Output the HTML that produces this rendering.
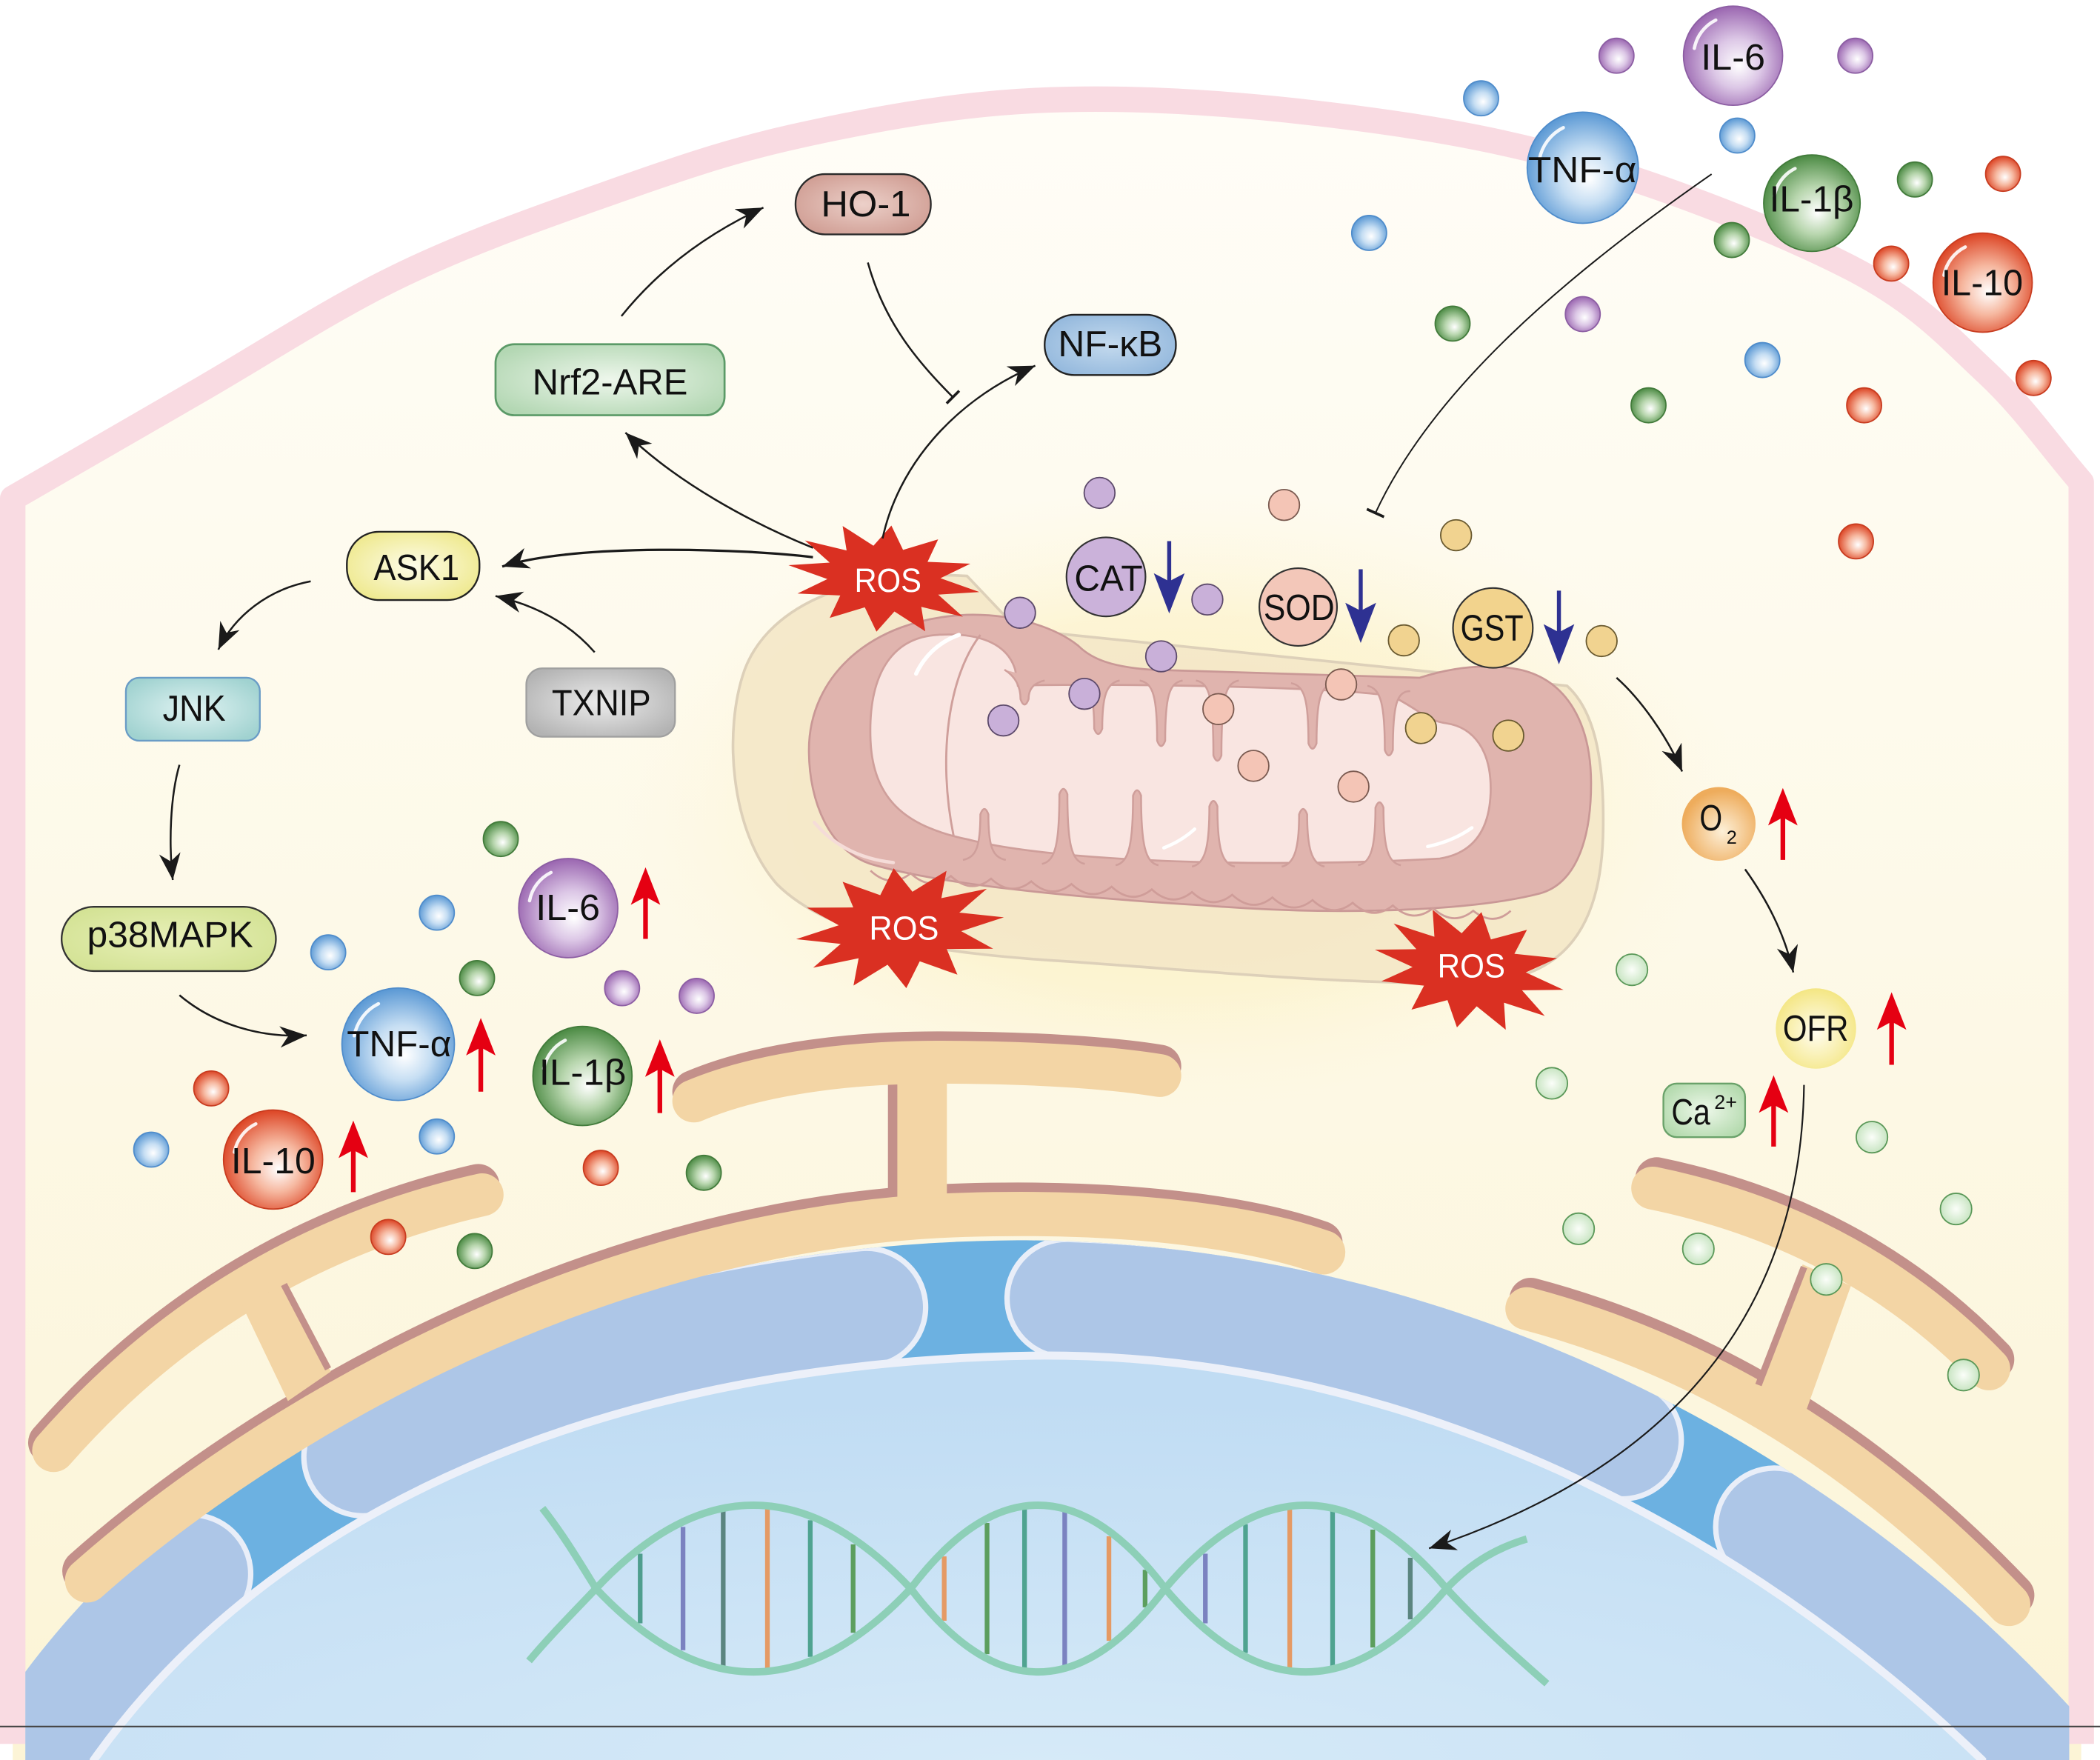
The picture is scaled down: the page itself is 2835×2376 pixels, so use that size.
<!DOCTYPE html>
<html><head><meta charset="utf-8"><style>
html,body{margin:0;padding:0;background:#fff;}
svg{display:block;}
text{font-family:"Liberation Sans",Arial,sans-serif;}
</style></head><body>
<svg xmlns="http://www.w3.org/2000/svg" width="2835" height="2376" viewBox="0 0 1568 1314" preserveAspectRatio="none">
<defs>
<linearGradient id="cellbg" x1="0" y1="0" x2="0" y2="1">
<stop offset="0" stop-color="#fffdf7"/><stop offset="0.5" stop-color="#fdf9e8"/><stop offset="1" stop-color="#fcf4d6"/>
</linearGradient>
<radialGradient id="glow" cx="0.5" cy="0.5" r="0.5">
<stop offset="0" stop-color="#fbeeb8" stop-opacity="0.9"/><stop offset="0.6" stop-color="#fcf1c4" stop-opacity="0.6"/><stop offset="1" stop-color="#fdf6dc" stop-opacity="0"/>
</radialGradient>
<radialGradient id="gPur" cx="0.52" cy="0.55" r="0.55" fx="0.56" fy="0.6"><stop offset="0" stop-color="#fff"/><stop offset="0.45" stop-color="#dcc7e6"/><stop offset="1" stop-color="#9a66b0"/></radialGradient>
<radialGradient id="gBlu" cx="0.52" cy="0.55" r="0.55" fx="0.56" fy="0.6"><stop offset="0" stop-color="#fff"/><stop offset="0.45" stop-color="#c6def3"/><stop offset="1" stop-color="#5a98d4"/></radialGradient>
<radialGradient id="gGrn" cx="0.52" cy="0.55" r="0.55" fx="0.56" fy="0.6"><stop offset="0" stop-color="#fff"/><stop offset="0.45" stop-color="#b8d6ae"/><stop offset="1" stop-color="#4b8a43"/></radialGradient>
<radialGradient id="gRed" cx="0.52" cy="0.55" r="0.55" fx="0.56" fy="0.6"><stop offset="0" stop-color="#fff"/><stop offset="0.45" stop-color="#f6b8a0"/><stop offset="1" stop-color="#dc4424"/></radialGradient>
<radialGradient id="gPale" cx="0.5" cy="0.5" r="0.5"><stop offset="0" stop-color="#fbfef9"/><stop offset="1" stop-color="#c9e5c3"/></radialGradient>
<radialGradient id="gO2" cx="0.55" cy="0.6" r="0.55"><stop offset="0" stop-color="#fdf0d8"/><stop offset="1" stop-color="#eeac5c"/></radialGradient>
<radialGradient id="gOFR" cx="0.5" cy="0.55" r="0.55"><stop offset="0" stop-color="#fffdf0"/><stop offset="1" stop-color="#f4e683"/></radialGradient>
<radialGradient id="bHO" cx="0.5" cy="0.5" r="0.6"><stop offset="0" stop-color="#ecd0c9"/><stop offset="1" stop-color="#cf9c92"/></radialGradient>
<radialGradient id="bNF" cx="0.5" cy="0.5" r="0.6"><stop offset="0" stop-color="#c4daee"/><stop offset="1" stop-color="#92b7dc"/></radialGradient>
<radialGradient id="bNrf" cx="0.5" cy="0.5" r="0.6"><stop offset="0" stop-color="#eef7ec"/><stop offset="1" stop-color="#b3d7b3"/></radialGradient>
<radialGradient id="bASK" cx="0.5" cy="0.5" r="0.6"><stop offset="0" stop-color="#fdfce8"/><stop offset="1" stop-color="#eee88a"/></radialGradient>
<radialGradient id="bTX" cx="0.5" cy="0.5" r="0.6"><stop offset="0" stop-color="#ececec"/><stop offset="1" stop-color="#b3b3b3"/></radialGradient>
<radialGradient id="bJNK" cx="0.5" cy="0.5" r="0.6"><stop offset="0" stop-color="#e0f3f2"/><stop offset="1" stop-color="#a0d2d0"/></radialGradient>
<radialGradient id="bP38" cx="0.5" cy="0.5" r="0.6"><stop offset="0" stop-color="#e8f0b8"/><stop offset="1" stop-color="#d3e294"/></radialGradient>
<radialGradient id="bCa" cx="0.5" cy="0.5" r="0.6"><stop offset="0" stop-color="#eef8ea"/><stop offset="1" stop-color="#b2d9ac"/></radialGradient>
<radialGradient id="nucG" cx="0.5" cy="1" r="0.9"><stop offset="0" stop-color="#d6eaf8"/><stop offset="1" stop-color="#c0dcf3"/></radialGradient>
<clipPath id="cellclip"><rect x="19" y="0" width="1526" height="1314"/></clipPath>
<clipPath id="domeclip"><path d="M 0,1275 C 150,1050 450,928 760,926 C 1080,926 1380,1080 1568,1300 L 1568,1314 L 0,1314 Z"/></clipPath>
<marker id="ah" markerUnits="userSpaceOnUse" markerWidth="22" markerHeight="18" refX="20" refY="8" orient="auto">
<path d="M0,0 L20,8 L0,16 L6,8 Z" fill="#1a1a1a"/>
</marker>
</defs>

<rect width="1568" height="1314" fill="#fff"/>

<!-- cell interior -->
<path d="M 9.5,1314 L 9.5,372 C 55.7,345.3 100.25,319.5 148,292 C 195.75,264.5 246.7,231 296,207 C 345.3,183 394.5,165.5 444,148 C 493.5,130.5 538,114.2 593,102 C 648,89.8 709.8,78 774,75 C 838.2,72 910.5,76.3 978,84 C 1045.5,91.7 1111.7,101.7 1179,121 C 1246.3,140.3 1331.3,173.8 1382,200 C 1432.7,226.2 1454.3,251.3 1483,278 C 1511.7,304.7 1530.3,332.7 1554,360 L 1554,1314 Z" fill="url(#cellbg)"/>
<!-- membrane band -->
<path d="M 9.5,1302 L 9.5,372 C 55.7,345.3 100.25,319.5 148,292 C 195.75,264.5 246.7,231 296,207 C 345.3,183 394.5,165.5 444,148 C 493.5,130.5 538,114.2 593,102 C 648,89.8 709.8,78 774,75 C 838.2,72 910.5,76.3 978,84 C 1045.5,91.7 1111.7,101.7 1179,121 C 1246.3,140.3 1331.3,173.8 1382,200 C 1432.7,226.2 1454.3,251.3 1483,278 C 1511.7,304.7 1530.3,332.7 1554,360 L 1554,1302" fill="none" stroke="#f9dbe2" stroke-width="19" stroke-linejoin="round"/>

<!-- mito glow -->
<ellipse cx="880" cy="600" rx="420" ry="235" fill="url(#glow)"/>

<!-- nucleus -->
<g clip-path="url(#cellclip)">
<path d="M 0,1275 C 150,1050 450,928 760,926 C 1080,926 1380,1080 1568,1300 L 1568,1314 L 0,1314 Z" fill="#6cb1e1"/>
<g clip-path="url(#domeclip)">
<path d="M 35,1295 C 175,1090 450,972 770,969 C 1065,969 1340,1110 1524,1307" fill="none" stroke="#e9eef8" stroke-width="92" stroke-linecap="round" stroke-dasharray="162 155 395 149 432 131 600"/>
<path d="M 35,1295 C 175,1090 450,972 770,969 C 1065,969 1340,1110 1524,1307" fill="none" stroke="#adc6e7" stroke-width="84" stroke-linecap="round" stroke-dasharray="162 155 395 149 432 131 600"/>
</g>
<path d="M 70,1320 L 70,1314 C 200,1130 450,1015 780,1012 C 1050,1012 1300,1140 1480,1314 L 1480,1320 Z" fill="url(#nucG)" stroke="#ecf0f9" stroke-width="6"/>
</g>

<!-- DNA -->
<g stroke-width="3.5" fill="none">
<line x1="478" y1="1160" x2="478" y2="1212" stroke="#4f9e8e"/>
<line x1="510" y1="1140" x2="510" y2="1232" stroke="#7b82c0"/>
<line x1="540" y1="1128" x2="540" y2="1244" stroke="#5b8580"/>
<line x1="573" y1="1126" x2="573" y2="1246" stroke="#e59a64"/>
<line x1="605" y1="1135" x2="605" y2="1237" stroke="#4fa390"/>
<line x1="637" y1="1153" x2="637" y2="1219" stroke="#5c9e5e"/>
<line x1="705" y1="1162" x2="705" y2="1210" stroke="#e59a64"/>
<line x1="737" y1="1137" x2="737" y2="1235" stroke="#5c9e5e"/>
<line x1="765" y1="1126" x2="765" y2="1246" stroke="#4fa390"/>
<line x1="795" y1="1128" x2="795" y2="1244" stroke="#7b82c0"/>
<line x1="828" y1="1147" x2="828" y2="1225" stroke="#e59a64"/>
<line x1="855" y1="1172" x2="855" y2="1200" stroke="#5c9e5e"/>
<line x1="900" y1="1160" x2="900" y2="1212" stroke="#7b82c0"/>
<line x1="930" y1="1138" x2="930" y2="1234" stroke="#4fa390"/>
<line x1="963" y1="1126" x2="963" y2="1246" stroke="#e59a64"/>
<line x1="995" y1="1128" x2="995" y2="1244" stroke="#4fa390"/>
<line x1="1025" y1="1142" x2="1025" y2="1230" stroke="#5c9e5e"/>
<line x1="1053" y1="1163" x2="1053" y2="1209" stroke="#5b8580"/>
</g>
<g stroke="#8dcfb7" stroke-width="5.5" fill="none" stroke-linecap="butt">
<path d="M 395,1240 C 410,1222 428,1204 445,1186 C 523,1103 602,1103 680,1186 C 743,1269 807,1269 870,1186 C 940,1103 1010,1103 1080,1186 C 1105,1213 1130,1235 1155,1257"/>
<path d="M 405,1126 C 420,1145 432,1165 445,1186 C 523,1269 602,1269 680,1186 C 743,1103 807,1103 870,1186 C 940,1269 1010,1269 1080,1186 C 1100,1165 1120,1155 1140,1149"/>
</g>

<!-- ER -->
<g fill="none" stroke-linecap="round">
<path d="M 63,1173 C 198,1053 448,908 718,900 C 848,896 938,911 986,928" stroke="#c3908a" stroke-width="33"/>
<path d="M 65,1180 C 200,1060 450,915 720,907 C 850,903 940,918 988,935" stroke="#f3d5a5" stroke-width="33"/>
<path d="M 37,1077 Q 167,929 357,885" stroke="#c3908a" stroke-width="32"/>
<path d="M 40,1083 Q 170,935 360,892" stroke="#f3d5a5" stroke-width="32"/>
</g>
<polygon points="181,975 213,958 247,1024 215,1046" fill="#f3d5a5"/>
<line x1="212" y1="959" x2="245" y2="1022" stroke="#c3908a" stroke-width="5"/>
<rect x="663" y="800" width="8" height="92" fill="#c3908a"/>
<rect x="670" y="800" width="37" height="94" fill="#f3d5a5"/>
<g fill="none" stroke-linecap="round">
<path d="M 518,815 C 570,793 640,786 700,786 C 770,786 830,790 866,796" stroke="#c3908a" stroke-width="32"/>
<path d="M 518,822 C 570,800 640,793 700,793 C 770,793 830,797 866,803" stroke="#f3d5a5" stroke-width="32"/>
<path d="M 1143,970 Q 1343,1023 1503,1191" stroke="#c3908a" stroke-width="32"/>
<path d="M 1140,977 Q 1340,1030 1500,1198" stroke="#f3d5a5" stroke-width="32"/>
<path d="M 1237,880 Q 1388,911 1488,1015" stroke="#c3908a" stroke-width="32"/>
<path d="M 1234,887 Q 1385,918 1485,1022" stroke="#f3d5a5" stroke-width="32"/>
</g>
<polygon points="1346,944 1382,960 1349,1052 1312,1036" fill="#f3d5a5"/>
<line x1="1347" y1="946" x2="1313" y2="1034" stroke="#c3908a" stroke-width="5"/>

<!-- mitochondrion -->
<path d="M 722,430 C 640,425 575,450 556,500 C 540,545 545,620 580,660 C 620,700 700,712 800,718 C 900,725 1000,735 1100,734 C 1170,732 1196,690 1197,620 C 1198,565 1190,530 1170,512 L 760,470 Z" fill="#f4e7c8" fill-opacity="0.92" stroke="#ddd0b9" stroke-width="2"/>
<path d="M 604,560 C 604,505 650,462 722,459 C 760,458 790,470 805,482 C 815,492 830,498 860,500 L 1060,506 C 1085,498 1110,495 1135,500 C 1170,508 1188,540 1188,585 C 1188,630 1175,660 1150,667 C 1100,680 1000,684 900,676 C 800,670 700,660 650,645 C 620,635 604,600 604,560 Z" fill="#e0b4ae" stroke="#c99896" stroke-width="1.5"/>
<path d="M 650,650 q 15,14 30,2 q 15,14 30,2 q 15,14 30,2 q 15,14 30,2 q 15,14 30,2 q 15,14 30,2 q 15,14 30,2 q 15,14 30,2 q 15,14 30,2 q 15,14 30,2 q 15,14 30,2 q 15,14 30,2 q 15,14 30,2 q 15,14 30,2 q 15,14 30,2 q 15,12 28,0" fill="none" stroke="#cf9d99" stroke-width="1.5"/>
<path d="M 650,553 C 648,505 665,476 700,474 C 730,472 752,480 758,500 L 760,512 C 800,510 1000,512 1040,520 C 1060,530 1065,538 1080,540 C 1100,543 1114,560 1113,592 C 1112,620 1100,637 1075,641 C 950,648 790,644 724,627 C 680,618 652,600 650,553 Z" fill="#f9e5e1" stroke="#cf9f9b" stroke-width="1.5"/>
<g fill="#e0b4ae" stroke="#cf9f9b" stroke-width="1.4">
<path d="M 750,500 C 758,505 762,512 762,522 Q 765,530 768,522 C 768,514 772,510 780,508"/>
<path d="M 804,508 C 814,510 817,520 817,544 Q 820,552 823,544 C 823,520 826,510 836,508"/>
<path d="M 851,508 C 861,510 864,520 864,553 Q 867,561 870,553 C 870,520 873,510 883,508"/>
<path d="M 893,508 C 903,510 906,520 906,564 Q 909,572 912,564 C 912,520 915,510 925,508"/>
<path d="M 964,510 C 974,512 977,522 977,555 Q 980,563 983,555 C 983,522 986,512 996,510"/>
<path d="M 1021,512 C 1031,514 1034,526 1034,560 Q 1037,568 1040,560 C 1040,526 1043,516 1053,516"/>
<path d="M 719,642 C 729,640 732,632 732,608 Q 735,600 738,608 C 738,632 741,640 751,642"/>
<path d="M 778,645 C 788,643 791,630 791,593 Q 794,585 797,593 C 797,630 800,643 810,645"/>
<path d="M 833,646 C 843,644 846,630 846,594 Q 849,586 852,594 C 852,630 855,644 865,646"/>
<path d="M 890,647 C 900,645 903,632 903,602 Q 906,594 909,602 C 909,632 912,645 922,647"/>
<path d="M 957,647 C 967,645 970,632 970,608 Q 973,600 976,608 C 976,632 979,645 989,647"/>
<path d="M 1014,646 C 1024,644 1027,632 1027,603 Q 1030,595 1033,603 C 1033,632 1036,644 1046,646"/>
</g>
<path d="M 732,474 C 708,505 700,565 712,624" fill="none" stroke="#cf9f9b" stroke-width="1.6"/>
<path d="M 684,503 Q 694,482 716,474" fill="none" stroke="#fff" stroke-width="3" stroke-linecap="round"/>
<path d="M 1066,632 Q 1085,628 1099,618" fill="none" stroke="#fff" stroke-width="2.5" stroke-linecap="round"/>
<path d="M 869,633 Q 882,628 892,619" fill="none" stroke="#fff" stroke-width="2.5" stroke-linecap="round"/>
<path d="M 608,614 Q 630,640 667,644" fill="none" stroke="#f5dcd8" stroke-width="2.5" stroke-linecap="round"/>

<!-- enzyme dots -->
<g stroke="#5d4a6b" stroke-width="1" fill="#c9b0d9">
<circle cx="821" cy="368" r="11.5"/><circle cx="901.5" cy="447.6" r="11.5"/><circle cx="867" cy="490" r="11.5"/><circle cx="809.7" cy="518" r="11.5"/><circle cx="761.6" cy="457.5" r="11.5"/><circle cx="749.2" cy="537.9" r="11.5"/>
</g>
<g stroke="#7a5a50" stroke-width="1" fill="#f4c5b6">
<circle cx="958.8" cy="377" r="11.5"/><circle cx="1001.4" cy="511" r="11.5"/><circle cx="909.7" cy="529.4" r="11.5"/><circle cx="935.9" cy="571.8" r="11.5"/><circle cx="1010.6" cy="587.3" r="11.5"/>
</g>
<g stroke="#6a5a30" stroke-width="1" fill="#f1d390">
<circle cx="1087.2" cy="399.6" r="11.5"/><circle cx="1048.2" cy="478.1" r="11.5"/><circle cx="1195.9" cy="478.6" r="11.5"/><circle cx="1061" cy="543.6" r="11.5"/><circle cx="1126.2" cy="549.2" r="11.5"/>
</g>
<circle cx="825.8" cy="430.7" r="29.5" fill="#cbb2da" stroke="#333" stroke-width="1.2"/>
<circle cx="969.3" cy="453.2" r="29" fill="#f3c7b9" stroke="#333" stroke-width="1.2"/>
<circle cx="1114.7" cy="468.8" r="29.8" fill="#f2d38d" stroke="#333" stroke-width="1.2"/>

<!-- ROS stars -->
<g fill="#da3022">
<polygon transform="translate(660,432) rotate(8) scale(72,40)" points="1,0 .58,.155 .866,.5 .424,.424 .5,.866 .155,.58 0,1 -.155,.58 -.5,.866 -.424,.424 -.866,.5 -.58,.155 -1,0 -.58,-.155 -.866,-.5 -.424,-.424 -.5,-.866 -.155,-.58 0,-1 .155,-.58 .5,-.866 .424,-.424 .866,-.5 .58,-.155"/>
<polygon transform="translate(672,693) rotate(-6) scale(78,45)" points="1,0 .58,.155 .866,.5 .424,.424 .5,.866 .155,.58 0,1 -.155,.58 -.5,.866 -.424,.424 -.866,.5 -.58,.155 -1,0 -.58,-.155 -.866,-.5 -.424,-.424 -.5,-.866 -.155,-.58 0,-1 .155,-.58 .5,-.866 .424,-.424 .866,-.5 .58,-.155"/>
<polygon transform="translate(1097,724) rotate(12) scale(72,44)" points="1,0 .58,.155 .866,.5 .424,.424 .5,.866 .155,.58 0,1 -.155,.58 -.5,.866 -.424,.424 -.866,.5 -.58,.155 -1,0 -.58,-.155 -.866,-.5 -.424,-.424 -.5,-.866 -.155,-.58 0,-1 .155,-.58 .5,-.866 .424,-.424 .866,-.5 .58,-.155"/>
</g>

<!-- extracellular spheres -->
<g stroke-width="1">
<circle cx="1207" cy="41.6" r="13" fill="url(#gPur)" stroke="#8c5ea3"/>
<circle cx="1385.3" cy="41.6" r="13" fill="url(#gPur)" stroke="#8c5ea3"/>
<circle cx="1105.9" cy="73.4" r="13" fill="url(#gBlu)" stroke="#4f8ccb"/>
<circle cx="1297.2" cy="101.2" r="13" fill="url(#gBlu)" stroke="#4f8ccb"/>
<circle cx="1429.8" cy="134" r="13" fill="url(#gGrn)" stroke="#427b3b"/>
<circle cx="1495.6" cy="129.8" r="13" fill="url(#gRed)" stroke="#c83c20"/>
<circle cx="1022.3" cy="173.9" r="13" fill="url(#gBlu)" stroke="#4f8ccb"/>
<circle cx="1293.1" cy="179.2" r="13" fill="url(#gGrn)" stroke="#427b3b"/>
<circle cx="1412.1" cy="196.8" r="13" fill="url(#gRed)" stroke="#c83c20"/>
<circle cx="1181.8" cy="234.5" r="13" fill="url(#gPur)" stroke="#8c5ea3"/>
<circle cx="1084.6" cy="241.6" r="13" fill="url(#gGrn)" stroke="#427b3b"/>
<circle cx="1315.9" cy="268.8" r="13" fill="url(#gBlu)" stroke="#4f8ccb"/>
<circle cx="1518.4" cy="282.2" r="13" fill="url(#gRed)" stroke="#c83c20"/>
<circle cx="1230.9" cy="302.6" r="13" fill="url(#gGrn)" stroke="#427b3b"/>
<circle cx="1391.9" cy="302.6" r="13" fill="url(#gRed)" stroke="#c83c20"/>
<circle cx="1385.8" cy="404.2" r="13" fill="url(#gRed)" stroke="#c83c20"/>
<circle cx="1294" cy="41.6" r="37" fill="url(#gPur)" stroke="#8c5ea3"/>
<circle cx="1181.8" cy="125.2" r="41.5" fill="url(#gBlu)" stroke="#4f8ccb"/>
<circle cx="1352.9" cy="151.7" r="36" fill="url(#gGrn)" stroke="#427b3b"/>
<circle cx="1480.4" cy="211" r="37" fill="url(#gRed)" stroke="#c83c20"/>
<!-- intracellular left -->
<circle cx="373.9" cy="626.4" r="13" fill="url(#gGrn)" stroke="#427b3b"/>
<circle cx="326.2" cy="681.4" r="13" fill="url(#gBlu)" stroke="#4f8ccb"/>
<circle cx="245.1" cy="711" r="13" fill="url(#gBlu)" stroke="#4f8ccb"/>
<circle cx="356.2" cy="730.2" r="13" fill="url(#gGrn)" stroke="#427b3b"/>
<circle cx="464.5" cy="737.8" r="13" fill="url(#gPur)" stroke="#8c5ea3"/>
<circle cx="520.2" cy="743.5" r="13" fill="url(#gPur)" stroke="#8c5ea3"/>
<circle cx="157.7" cy="812.6" r="13" fill="url(#gRed)" stroke="#c83c20"/>
<circle cx="112.9" cy="858.3" r="13" fill="url(#gBlu)" stroke="#4f8ccb"/>
<circle cx="326.2" cy="848.5" r="13" fill="url(#gBlu)" stroke="#4f8ccb"/>
<circle cx="448.6" cy="871.9" r="13" fill="url(#gRed)" stroke="#c83c20"/>
<circle cx="525.5" cy="875.6" r="13" fill="url(#gGrn)" stroke="#427b3b"/>
<circle cx="289.9" cy="923.5" r="13" fill="url(#gRed)" stroke="#c83c20"/>
<circle cx="354.5" cy="934" r="13" fill="url(#gGrn)" stroke="#427b3b"/>
<circle cx="424.3" cy="678" r="37" fill="url(#gPur)" stroke="#8c5ea3"/>
<circle cx="297.3" cy="779.6" r="42" fill="url(#gBlu)" stroke="#4f8ccb"/>
<circle cx="434.9" cy="803.3" r="37" fill="url(#gGrn)" stroke="#427b3b"/>
<circle cx="203.9" cy="865.7" r="37" fill="url(#gRed)" stroke="#c83c20"/>
</g>
<g fill="none" stroke="#fff" stroke-width="2.5" stroke-linecap="round" opacity="0.9">
<path d="M 1265.1,36.1 A 29.6,29.6 0 0 1 1281.1,15"/>
<path d="M 1149.4,119 A 33.2,33.2 0 0 1 1167.3,95.3"/>
<path d="M 1324.8,146.3 A 28.8,28.8 0 0 1 1340.3,125.8"/>
<path d="M 1451.5,205.5 A 29.6,29.6 0 0 1 1467.4,184.4"/>
<path d="M 395.4,672.5 A 29.6,29.6 0 0 1 411.4,651.4"/>
<path d="M 264.5,773.3 A 33.6,33.6 0 0 1 282.6,749.4"/>
<path d="M 406,797.8 A 29.6,29.6 0 0 1 422,776.7"/>
<path d="M 175,860.2 A 29.6,29.6 0 0 1 191,839.1"/>
</g>

<!-- pale green spheres -->
<g fill="url(#gPale)" stroke="#5a9858" stroke-width="1">
<circle cx="1218.5" cy="724" r="11.7"/><circle cx="1158.7" cy="808.8" r="11.7"/><circle cx="1397.7" cy="849" r="11.7"/><circle cx="1178.7" cy="917.4" r="11.7"/><circle cx="1268.1" cy="932.4" r="11.7"/><circle cx="1460.5" cy="902.6" r="11.7"/><circle cx="1363.6" cy="955.2" r="11.7"/><circle cx="1466.1" cy="1026.6" r="11.7"/>
</g>

<!-- O2, OFR -->
<circle cx="1283.3" cy="615.1" r="27.5" fill="url(#gO2)"/>
<circle cx="1355.9" cy="767.9" r="30" fill="url(#gOFR)"/>

<!-- boxes -->
<rect x="594" y="130" width="101" height="45" rx="22" fill="url(#bHO)" stroke="#2a2a2a" stroke-width="1.3"/>
<rect x="780" y="235" width="98" height="45" rx="22" fill="url(#bNF)" stroke="#222" stroke-width="1.3"/>
<rect x="370" y="257" width="171" height="53" rx="14" fill="url(#bNrf)" stroke="#5b9a67" stroke-width="1.5"/>
<rect x="259" y="397" width="99" height="51" rx="24" fill="url(#bASK)" stroke="#222" stroke-width="1.3"/>
<rect x="393" y="499" width="111" height="51" rx="12" fill="url(#bTX)" stroke="#a0a0a0" stroke-width="1.3"/>
<rect x="94" y="506" width="100" height="47" rx="10" fill="url(#bJNK)" stroke="#6a9cc6" stroke-width="1.3"/>
<rect x="46" y="677" width="160" height="48" rx="24" fill="url(#bP38)" stroke="#333" stroke-width="1.3"/>
<rect x="1242" y="809" width="61" height="40" rx="10" fill="url(#bCa)" stroke="#6aa26a" stroke-width="1.3"/>

<!-- black arrows -->
<g fill="none" stroke="#1a1a1a" stroke-width="1.4">
<path d="M 464,236 Q 505,185 570,155" marker-end="url(#ah)"/>
<path d="M 648,196 C 660,240 685,270 711,296"/>
<path d="M 716.2,291.8 L 706.8,301.2" stroke-width="2"/>
<path d="M 659,402 C 670,350 710,300 773,273" marker-end="url(#ah)"/>
<path d="M 607,409 C 560,390 505,360 467,323" marker-end="url(#ah)"/>
<path d="M 607,416 C 560,410 430,405 375,423" stroke-width="1.8" marker-end="url(#ah)"/>
<path d="M 444,487 C 425,465 400,452 370,445" marker-end="url(#ah)"/>
<path d="M 232,434 C 200,440 175,460 163,485" marker-end="url(#ah)"/>
<path d="M 134,571 C 127,595 126,630 129,657" marker-end="url(#ah)"/>
<path d="M 134,743 C 160,765 195,775 229,773" marker-end="url(#ah)"/>
<path d="M 1278,130 C 1170,205 1070,290 1027,383" stroke-width="1.1"/>
<path d="M 1033.4,385.9 L 1020.6,380.1" stroke-width="2"/>
<path d="M 1207,506 C 1225,522 1245,550 1256,576" marker-end="url(#ah)"/>
<path d="M 1303,649 C 1318,670 1332,695 1339,726" marker-end="url(#ah)"/>
<path d="M 1347,810 C 1345,950 1280,1085 1067,1156" stroke-width="1.2" marker-end="url(#ah)"/>
</g>

<!-- red up arrows -->
<g fill="#e50012" stroke="#e50012">
<line x1="482" y1="668" x2="482" y2="701" stroke-width="3.5"/><path d="M482,647.5 L493,675.5 L482,669.5 L471,675.5 Z" stroke="none"/>
<line x1="359" y1="781" x2="359" y2="815" stroke-width="3.5"/><path d="M359,760 L370,788 L359,782 L348,788 Z" stroke="none"/>
<line x1="492.7" y1="797" x2="492.7" y2="831" stroke-width="3.5"/><path d="M492.7,776 L503.7,804 L492.7,798 L481.7,804 Z" stroke="none"/>
<line x1="263.8" y1="857" x2="263.8" y2="890" stroke-width="3.5"/><path d="M263.8,836.6 L274.8,864.6 L263.8,858.6 L252.8,864.6 Z" stroke="none"/>
<line x1="1331.2" y1="609" x2="1331.2" y2="642" stroke-width="3.5"/><path d="M1331.2,588.3 L1342.2,616.3 L1331.2,610.3 L1320.2,616.3 Z" stroke="none"/>
<line x1="1412.4" y1="761" x2="1412.4" y2="795" stroke-width="3.5"/><path d="M1412.4,740.8 L1423.4,768.8 L1412.4,762.8 L1401.4,768.8 Z" stroke="none"/>
<line x1="1324.3" y1="823" x2="1324.3" y2="856" stroke-width="3.5"/><path d="M1324.3,802.8 L1335.3,830.8 L1324.3,824.8 L1313.3,830.8 Z" stroke="none"/>
</g>
<!-- blue down arrows -->
<g fill="#2e3192" stroke="#2e3192">
<line x1="873" y1="404" x2="873" y2="436" stroke-width="3"/><path d="M873,458 L884.5,428 L873,434 L861.5,428 Z" stroke="none"/>
<line x1="1016" y1="425" x2="1016" y2="457" stroke-width="3"/><path d="M1016,480 L1027.5,450 L1016,456 L1004.5,450 Z" stroke="none"/>
<line x1="1164" y1="441" x2="1164" y2="473" stroke-width="3"/><path d="M1164,496 L1175.5,466 L1164,472 L1152.5,466 Z" stroke="none"/>
</g>

<!-- labels -->
<g font-size="27" fill="#111" text-anchor="middle">
<text x="646.5" y="161.5" textLength="67" lengthAdjust="spacingAndGlyphs">HO-1</text>
<text x="829" y="266" textLength="78" lengthAdjust="spacingAndGlyphs">NF-κB</text>
<text x="455.5" y="294.5" textLength="116" lengthAdjust="spacingAndGlyphs">Nrf2-ARE</text>
<text x="311" y="433" textLength="64" lengthAdjust="spacingAndGlyphs">ASK1</text>
<text x="449" y="534" textLength="74" lengthAdjust="spacingAndGlyphs">TXNIP</text>
<text x="145" y="538" textLength="47" lengthAdjust="spacingAndGlyphs">JNK</text>
<text x="127" y="707" textLength="124" lengthAdjust="spacingAndGlyphs">p38MAPK</text>
<text x="827.7" y="441" textLength="51" lengthAdjust="spacingAndGlyphs">CAT</text>
<text x="970" y="463" textLength="53" lengthAdjust="spacingAndGlyphs">SOD</text>
<text x="1114" y="478" textLength="47" lengthAdjust="spacingAndGlyphs">GST</text>
<text x="1294" y="52" textLength="48" lengthAdjust="spacingAndGlyphs">IL-6</text>
<text x="1181.5" y="136" textLength="81" lengthAdjust="spacingAndGlyphs">TNF-α</text>
<text x="1352.6" y="158" textLength="63" lengthAdjust="spacingAndGlyphs">IL-1β</text>
<text x="1480" y="220.4" textLength="61" lengthAdjust="spacingAndGlyphs">IL-10</text>
<text x="424" y="687" textLength="48" lengthAdjust="spacingAndGlyphs">IL-6</text>
<text x="298" y="788.6" textLength="78" lengthAdjust="spacingAndGlyphs">TNF-α</text>
<text x="435" y="810" textLength="65" lengthAdjust="spacingAndGlyphs">IL-1β</text>
<text x="204" y="876" textLength="63" lengthAdjust="spacingAndGlyphs">IL-10</text>
<text x="1355.7" y="777" textLength="49" lengthAdjust="spacingAndGlyphs">OFR</text>
<text x="1277.5" y="620" textLength="17" lengthAdjust="spacingAndGlyphs">O</text>
<text x="1262.5" y="839.6" textLength="29" lengthAdjust="spacingAndGlyphs">Ca</text>
</g>
<text x="1293" y="630" font-size="14" fill="#111" text-anchor="middle">2</text>
<text x="1288.5" y="828" font-size="15" fill="#111" text-anchor="middle" textLength="17" lengthAdjust="spacingAndGlyphs">2+</text>
<g font-size="25" fill="#fff" text-anchor="middle">
<text x="663" y="442" textLength="50" lengthAdjust="spacingAndGlyphs">ROS</text>
<text x="675" y="701.6" textLength="52" lengthAdjust="spacingAndGlyphs">ROS</text>
<text x="1098.6" y="729.8" textLength="50.5" lengthAdjust="spacingAndGlyphs">ROS</text>
</g>

<!-- bottom line -->
<line x1="0" y1="1289" x2="1568" y2="1289" stroke="#444" stroke-width="1.2"/>
</svg>
</body></html>
